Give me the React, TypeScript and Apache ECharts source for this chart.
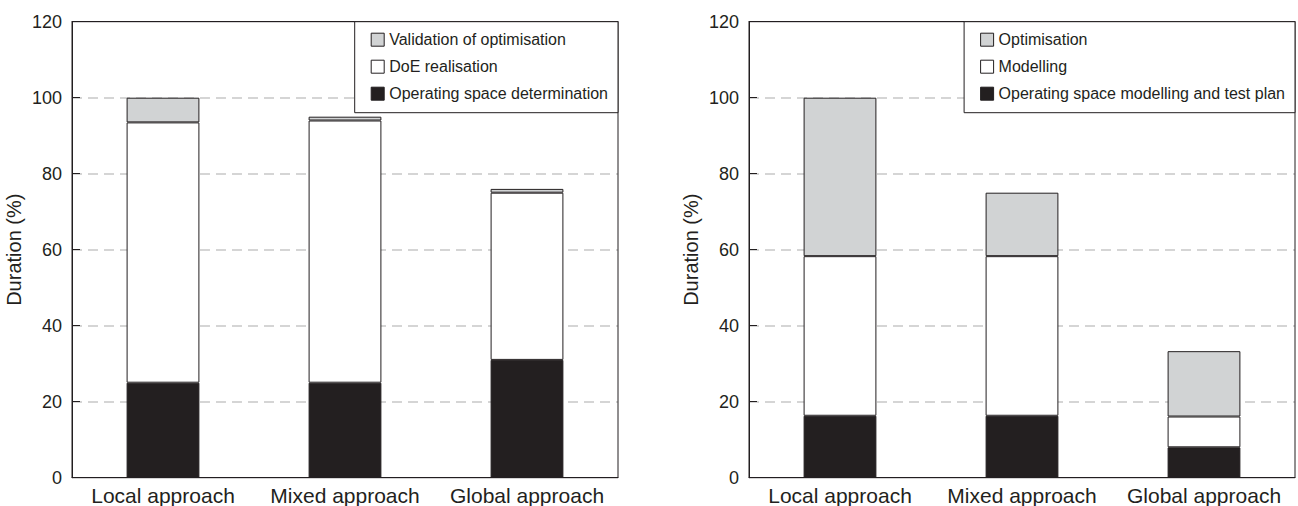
import React, { useEffect, useRef } from "react";
import * as echarts from "echarts";

const categories = ["Local approach", "Mixed approach", "Global approach"];

// Left chart
const leftNames = ["Validation of optimisation", "DoE realisation", "Operating space determination"];
const leftOperating = [25, 25, 31];
const leftDoE = [68.5, 69, 44];
const leftValidation = [6.5, 1, 1];

// Right chart
const rightNames = ["Optimisation", "Modelling", "Operating space modelling and test plan"];
const rightOperating = [16.3, 16.3, 8];
const rightModelling = [42, 42, 8.1];
const rightOptimisation = [41.7, 16.7, 17.2];

const yTicks = { min: 0, max: 120, interval: 20 };

const INK = "#231f20";
const GRAY = "#d1d3d4";
const FONT = "Liberation Sans, Arial, Helvetica, sans-serif";

export default function App() {
  const ref = useRef<HTMLDivElement>(null);

  useEffect(() => {
    if (!ref.current) return;
    const chart = echarts.init(ref.current, null, { renderer: "svg" });

    const grids = [
      { left: 72, top: 21.7, width: 546, height: 456 },
      { left: 749, top: 21.7, width: 546, height: 456 },
    ].map((g) => ({
      ...g,
      show: true,
      z: 10,
      borderColor: INK,
      borderWidth: 1,
      backgroundColor: "transparent",
    }));

    const xAxisBottom = [0, 1].map((i) => ({
      type: "category" as const,
      gridIndex: i,
      data: categories,
      axisLine: { onZero: false, lineStyle: { color: INK, width: 1 } },
      axisTick: { inside: true, length: 8, lineStyle: { color: INK } },
      axisLabel: { color: INK, fontSize: 21, fontFamily: FONT, margin: 7, interval: 0 },
    }));

    const xAxisTop = [0, 1].map((i) => ({
      type: "category" as const,
      gridIndex: i,
      position: "top" as const,
      z: 5,
      data: categories,
      axisLine: { show: true, onZero: false, lineStyle: { color: INK, width: 1 } },
      axisTick: { show: false },
      axisLabel: { show: false },
      splitLine: { show: false },
    }));

    const yAxis = [0, 1].map((i) => ({
      type: "value" as const,
      gridIndex: i,
      min: yTicks.min,
      max: yTicks.max,
      interval: yTicks.interval,
      name: "Duration (%)",
      nameLocation: "middle" as const,
      nameRotate: 90,
      nameGap: 48,
      nameTextStyle: { color: INK, fontSize: 20, fontFamily: FONT },
      axisLine: { show: true, onZero: false, lineStyle: { color: INK, width: 1 } },
      axisTick: { show: true, inside: true, length: 8, lineStyle: { color: INK } },
      axisLabel: { color: INK, fontSize: 18, fontFamily: FONT, margin: 10 },
      splitLine: {
        show: true,
        showMinLine: false,
        showMaxLine: false,
        lineStyle: { color: "#c8c8c8", width: 1.5, type: [10, 6] },
      },
    }));

    const mk = (name: string, data: number[], color: string, idx: number) => ({
      type: "bar" as const,
      name,
      data,
      stack: "s" + idx,
      xAxisIndex: idx,
      yAxisIndex: idx,
      barWidth: "40%",
      itemStyle: { color, borderColor: INK, borderWidth: 1 },
      emphasis: { disabled: true },
    });

    const legendItem = (name: string, color: string) => ({
      name,
      itemStyle: { color, borderColor: INK, borderWidth: 1 },
    });

    const legendBase = {
      orient: "vertical" as const,
      top: 21.7,
      z: 12,
      icon: "rect",
      itemWidth: 13,
      itemHeight: 13,
      itemGap: 11,
      padding: [10, 10, 11, 16],
      borderColor: INK,
      borderWidth: 1,
      backgroundColor: "#fff",
      align: "left" as const,
      selectedMode: false,
      textStyle: { color: INK, fontSize: 16, fontFamily: FONT },
    };

    chart.setOption({
      animation: false,
      backgroundColor: "#fff",
      textStyle: { fontFamily: FONT },
      grid: grids,
      xAxis: [...xAxisBottom, ...xAxisTop],
      yAxis,
      legend: [
        {
          ...legendBase,
          right: 1298 - 618,
          data: [
            legendItem(leftNames[0], GRAY),
            legendItem(leftNames[1], "#fff"),
            legendItem(leftNames[2], INK),
          ],
        },
        {
          ...legendBase,
          right: 1298 - 1295,
          data: [
            legendItem(rightNames[0], GRAY),
            legendItem(rightNames[1], "#fff"),
            legendItem(rightNames[2], INK),
          ],
        },
      ],
      series: [
        mk(leftNames[2], leftOperating, INK, 0),
        mk(leftNames[1], leftDoE, "#fff", 0),
        mk(leftNames[0], leftValidation, GRAY, 0),
        mk(rightNames[2], rightOperating, INK, 1),
        mk(rightNames[1], rightModelling, "#fff", 1),
        mk(rightNames[0], rightOptimisation, GRAY, 1),
      ],
    });

    return () => chart.dispose();
  }, []);

  return (
    <div
      ref={ref}
      style={{ position: "absolute", left: 0, top: 0, width: 1298, height: 506 }}
    />
  );
}
